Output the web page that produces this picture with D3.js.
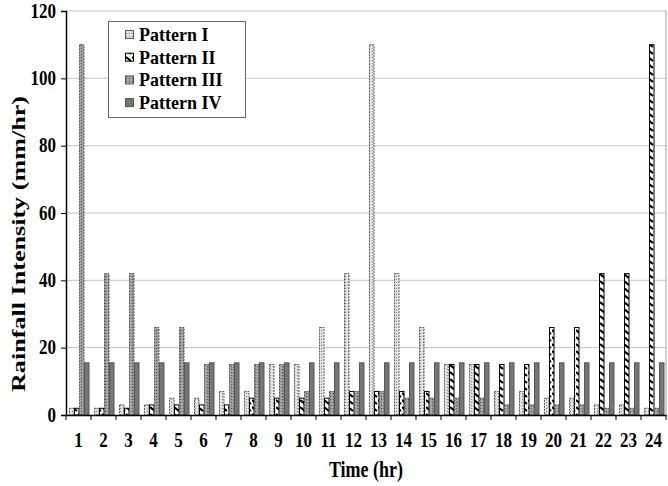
<!DOCTYPE html>
<html><head><meta charset="utf-8">
<script src="https://cdn.jsdelivr.net/npm/d3@7"></script>
<style>body{margin:0;background:#fff}</style>
</head><body>
<svg id="c" width="668" height="486"></svg>
<script>
const hours = d3.range(1, 25).map(String);
const seriesNames = ["Pattern I", "Pattern II", "Pattern III", "Pattern IV"];
const patternI   = [2,2,3,3,5,5,7,7,15,15,26,42,110,42,26,15,15,7,7,5,5,3,3,2];
const patternII  = [2,2,2,3,3,3,3,5,5,5,5,7,7,7,7,15,15,15,15,26,26,42,42,110];
const patternIII = [110,42,42,26,26,15,15,15,15,7,7,7,7,5,5,5,5,3,3,3,3,2,2,2];
const patternIV  = [15.5,15.5,15.5,15.5,15.5,15.5,15.5,15.5,15.5,15.5,15.5,15.5,15.5,15.5,15.5,15.5,15.5,15.5,15.5,15.5,15.5,15.5,15.5,15.5];
const yTicks = [0,20,40,60,80,100,120];
const allSeries = [patternI, patternII, patternIII, patternIV];

const svg = d3.select("#c");
const L = 66, R = 666, T = 11, B = 415;
const font = "'Liberation Serif','Times New Roman',serif";
const SY = 1.25;

const defs = svg.append("defs");
let p = defs.append("pattern").attr("id","pI").attr("width",3).attr("height",3).attr("patternUnits","userSpaceOnUse");
p.append("rect").attr("width",3).attr("height",3).attr("fill","#dcdcdc");
p.append("rect").attr("width",1).attr("height",1).attr("fill","#888");
p.append("rect").attr("x",1.5).attr("y",1.5).attr("width",1).attr("height",1).attr("fill","#ffffff");
p = defs.append("pattern").attr("id","pII").attr("width",6).attr("height",7).attr("patternUnits","userSpaceOnUse");
p.append("rect").attr("width",6).attr("height",7).attr("fill","#fff");
p.append("path").attr("d","M0,1 L5,5").attr("stroke","#000").attr("stroke-width",2.2);
p = defs.append("pattern").attr("id","pIII").attr("width",3).attr("height",3).attr("patternUnits","userSpaceOnUse");
p.append("rect").attr("width",3).attr("height",3).attr("fill","#9a9a9a");
p.append("rect").attr("width",1).attr("height",1).attr("fill","#5a5a5a");
p.append("rect").attr("x",1.5).attr("y",1.5).attr("width",1).attr("height",1).attr("fill","#d0d0d0");

const fills = ["url(#pI)","url(#pII)","url(#pIII)","#767676"];
const strokes = ["#5a5a5a","#000","#555","#555"];
const dashes = ["2,1",null,"2,1",null];

const x0 = d3.scaleBand().domain(hours).range([L, R]).padding(0);
const x1 = d3.scaleBand().domain(seriesNames).range([3, 23]).padding(0);
const y = d3.scaleLinear().domain([0,120]).range([B, T]);

svg.append("g").selectAll("line").data(yTicks.filter(d=>d>0)).join("line")
  .attr("x1",L).attr("x2",R).attr("y1",d=>y(d)).attr("y2",d=>y(d))
  .attr("stroke","#c4c4c4").attr("stroke-width",1);
svg.append("line").attr("x1",R).attr("x2",R).attr("y1",T).attr("y2",B).attr("stroke","#a0a0a0");

seriesNames.forEach((s,i)=>{
  svg.append("g").selectAll("rect").data(allSeries[i]).join("rect")
    .attr("x",(d,j)=>x0(hours[j]) + x1(s) + 0.5)
    .attr("width", x1.bandwidth() - 0.5)
    .attr("y", d=>y(d))
    .attr("height", d=>B - y(d))
    .attr("fill", fills[i]).attr("stroke", strokes[i]).attr("stroke-width",1)
    .attr("stroke-dasharray", dashes[i]);
});

const yAxis = svg.append("g").attr("transform",`translate(${L},0)`)
  .call(d3.axisLeft(y).tickValues(yTicks).tickSize(5).tickPadding(0));
const xAxis = svg.append("g").attr("transform",`translate(0,${B})`)
  .call(d3.axisBottom(x0).tickSize(0).tickPadding(0));
[yAxis, xAxis].forEach(a=>{
  a.select(".domain").attr("stroke","#000").attr("stroke-width",1.5);
  a.selectAll(".tick line").attr("stroke","#000");
});
yAxis.selectAll(".tick text").attr("font-family",font).attr("font-weight","bold").attr("font-size",17)
  .attr("fill","#000").attr("x",null).attr("dy",null)
  .attr("transform",`translate(-10,6) scale(1,${SY})`);
xAxis.selectAll(".tick text").attr("font-family",font).attr("font-weight","bold").attr("font-size",17)
  .attr("fill","#000").attr("y",null).attr("dy",null)
  .attr("transform",`translate(0,32) scale(1,${SY})`);

svg.append("g").selectAll("line").data(hours).join("line")
  .attr("x1",d=>x0(d)).attr("x2",d=>x0(d)).attr("y1",B).attr("y2",B+5).attr("stroke","#000");
svg.append("line").attr("x1",R).attr("x2",R).attr("y1",B).attr("y2",B+5).attr("stroke","#000");

svg.append("text").attr("transform",`translate(366,477) scale(1,${SY})`).attr("text-anchor","middle")
  .attr("font-family",font).attr("font-weight","bold").attr("font-size",18).text("Time (hr)");
svg.append("text").attr("transform","translate(25,244) rotate(-90)").attr("text-anchor","middle")
  .attr("font-family",font).attr("font-weight","bold").attr("font-size",18)
  .attr("textLength",296).attr("lengthAdjust","spacingAndGlyphs").text("Rainfall Intensity (mm/hr)");

const lg = svg.append("g");
lg.append("rect").attr("x",108.5).attr("y",21.5).attr("width",137).attr("height",96)
  .attr("fill","#fff").attr("stroke","#666");
seriesNames.forEach((s,i)=>{
  const cy = 35 + i*22.7;
  lg.append("rect").attr("x",125.5).attr("y",cy-4.5).attr("width",8).attr("height",8)
    .attr("fill",fills[i]).attr("stroke",strokes[i]);
  lg.append("text").attr("transform",`translate(139,${cy+6}) scale(1,1.08)`).attr("font-family",font)
    .attr("font-weight","bold").attr("font-size",18).text(s);
});
</script>
</body></html>
